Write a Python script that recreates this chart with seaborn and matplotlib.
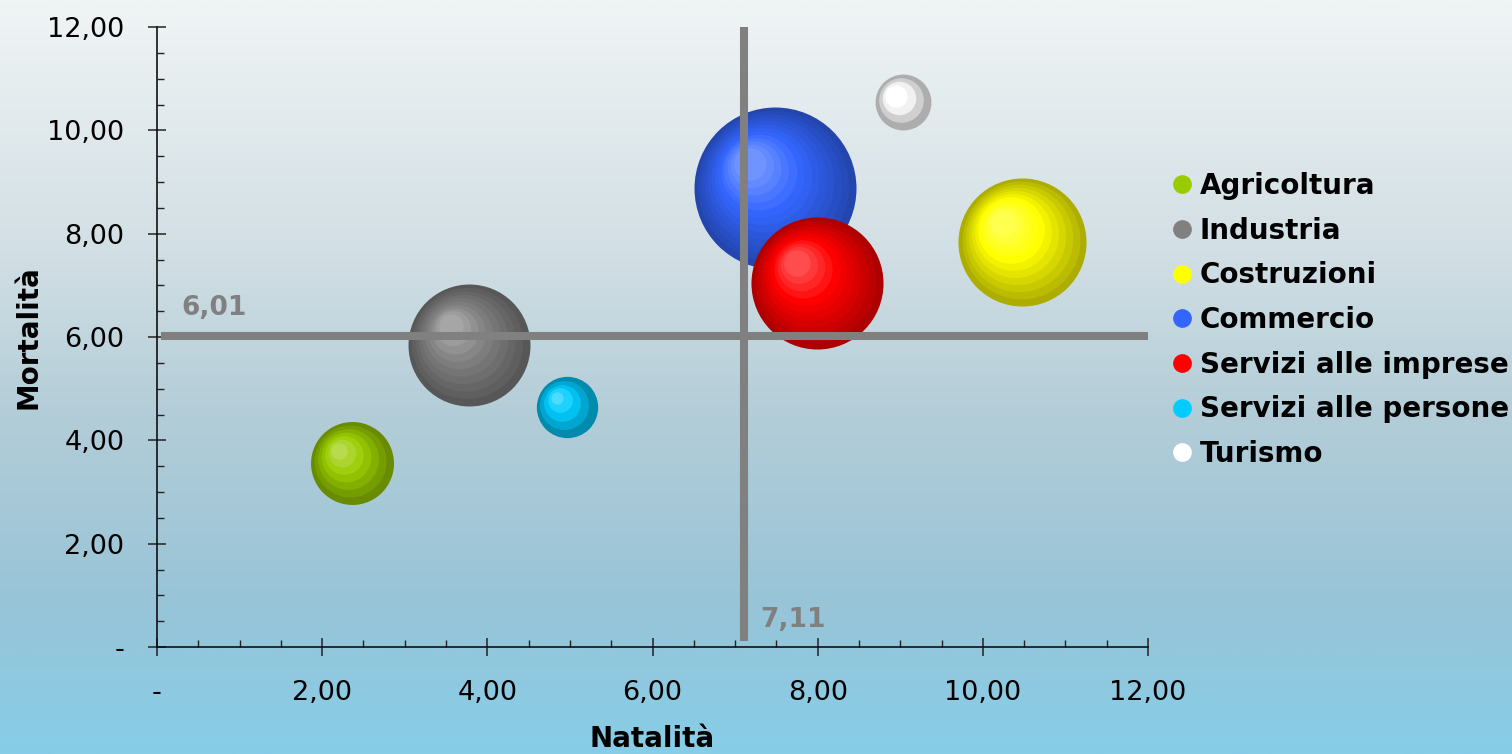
import numpy as np
import pandas as pd
import matplotlib
matplotlib.use("Agg")
import matplotlib.pyplot as plt
import matplotlib.transforms as mtransforms
from matplotlib.colors import to_rgb, LinearSegmentedColormap
from matplotlib.lines import Line2D
from matplotlib.ticker import MultipleLocator, FuncFormatter
import seaborn as sns

# data
settori = ["Agricoltura", "Industria", "Costruzioni", "Commercio",
           "Servizi alle imprese", "Servizi alle persone", "Turismo"]
natalita = [2.36, 3.78, 10.48, 7.48, 7.99, 4.96, 9.03]
mortalita = [3.56, 5.85, 7.84, 8.88, 7.04, 4.64, 10.55]
peso = [1720, 3720, 4100, 6560, 4360, 940, 780]  # bubble size (area)
colori = ["#99CC00", "#808080", "#FFFF00", "#3366FF", "#FF0000", "#00CCFF", "#FFFFFF"]
media_natalita = 7.11
media_mortalita = 6.01
ticks = [0, 2, 4, 6, 8, 10, 12]

df = pd.DataFrame({"settore": settori, "Natalità": natalita,
                   "Mortalità": mortalita, "peso": peso})

sns.set_style("ticks")
plt.rcParams["font.family"] = ["DejaVu Sans"]
plt.rcParams["text.color"] = "black"
plt.rcParams["axes.labelcolor"] = "black"

DPI = 100
fig = plt.figure(figsize=(15.12, 7.54), dpi=DPI)

# background gradient over the whole figure
bg = fig.add_axes([0, 0, 1, 1], zorder=0)
cmap = LinearSegmentedColormap.from_list(
    "bg", [(0, "#F0F4F5"), (0.33, "#D2DFE4"), (0.55, "#B3CDD8"),
           (0.8, "#98C4D7"), (1, "#87CDE8")])
bg.imshow(np.linspace(0, 1, 400).reshape(-1, 1), aspect="auto", cmap=cmap,
          extent=[0, 1, 0, 1])
bg.axis("off")

ax = fig.add_axes([157 / 1512, 1 - 647 / 754, (1148 - 157) / 1512, (647 - 27) / 754], zorder=1)
ax.patch.set_alpha(0)

k = (2 * 72 / DPI) ** 2  # px radius^2 -> points^2 area of marker
pal = dict(zip(settori, colori))
dark = {s: tuple(np.array(to_rgb(c)) * 0.68) for s, c in pal.items()}

# each bubble: darkest disc via seaborn, then concentric rings toward upper-left highlight
for i, row in df.iterrows():
    z = 2 + i * 0.1
    sns.scatterplot(data=df.iloc[[i]], x="Natalità", y="Mortalità", hue="settore",
                    palette=dark, size="peso", sizes=(0, max(peso) * k),
                    size_norm=(0, max(peso)), linewidth=0, legend=False, ax=ax, zorder=z)
    base = np.array(to_rgb(pal[row.settore]))
    r_px = np.sqrt(row.peso)
    n = max(3, int(round(r_px / 6)))
    for j in range(1, n):
        t = j / (n - 1)
        if t < 0.6:
            col = base * (0.68 + 0.32 * t / 0.6)
        else:
            col = base + (1 - base) * 0.3 * (t - 0.6) / 0.4
        rr = r_px * (1 - 0.8 * t)
        off = 0.3 * r_px * t * 72 / DPI
        tr = mtransforms.offset_copy(ax.transData, fig=fig, x=-off, y=off, units="points")
        ax.scatter([row["Natalità"]], [row["Mortalità"]], s=rr ** 2 * k,
                   color=np.clip(col, 0, 1), linewidths=0, transform=tr, zorder=z + j * 0.001)

# average lines
ax.vlines(media_natalita, 0.12, 12, color="#808080", lw=5.8, zorder=5, clip_on=False)
ax.hlines(media_mortalita, 0.05, 12, color="#808080", lw=5.8, zorder=5, clip_on=False)
fmt = lambda v: "-" if v == 0 else f"{v:.2f}".replace(".", ",")
ax.text(0.3, media_mortalita + 0.3, fmt(media_mortalita), color="#808080",
        fontsize=19, fontweight="bold", ha="left", va="bottom")
ax.text(media_natalita + 0.2, 0.28, fmt(media_natalita), color="#808080",
        fontsize=19, fontweight="bold", ha="left", va="bottom")

ax.set_xlim(0, 12)
ax.set_ylim(0, 12)
ax.set_xticks(ticks)
ax.set_yticks(ticks)
ax.xaxis.set_major_formatter(FuncFormatter(lambda v, p: fmt(v)))
ax.yaxis.set_major_formatter(FuncFormatter(lambda v, p: fmt(v)))
ax.xaxis.set_minor_locator(MultipleLocator(0.5))
ax.yaxis.set_minor_locator(MultipleLocator(0.5))
ax.tick_params(which="major", direction="inout", length=13, width=1.1,
               labelsize=19.5, color="#222222", labelcolor="black")
ax.tick_params(axis="y", which="major", pad=17)
ax.tick_params(axis="x", which="major", pad=17)
ax.tick_params(which="minor", direction="in", length=5, width=1, color="#222222")
for s in ["top", "right"]:
    ax.spines[s].set_visible(False)
for s in ["left", "bottom"]:
    ax.spines[s].set_color("#111111")
    ax.spines[s].set_linewidth(1.2)

ax.set_xlabel("Natalità", fontsize=20, fontweight="bold", labelpad=14)
ax.set_ylabel("Mortalità", fontsize=20, fontweight="bold", labelpad=3)

handles = [Line2D([], [], marker="o", linestyle="", markersize=13.5,
                  markerfacecolor=c, markeredgewidth=0) for c in colori]
fig.legend(handles, settori, loc="upper left", bbox_to_anchor=(1151 / 1512, 1 - 158 / 754),
           frameon=False, prop={"size": 20, "weight": "bold"}, labelcolor="black",
           handletextpad=0.05, labelspacing=0.6, handlelength=1.2, borderpad=0)

fig.savefig("out.png", dpi=DPI)
